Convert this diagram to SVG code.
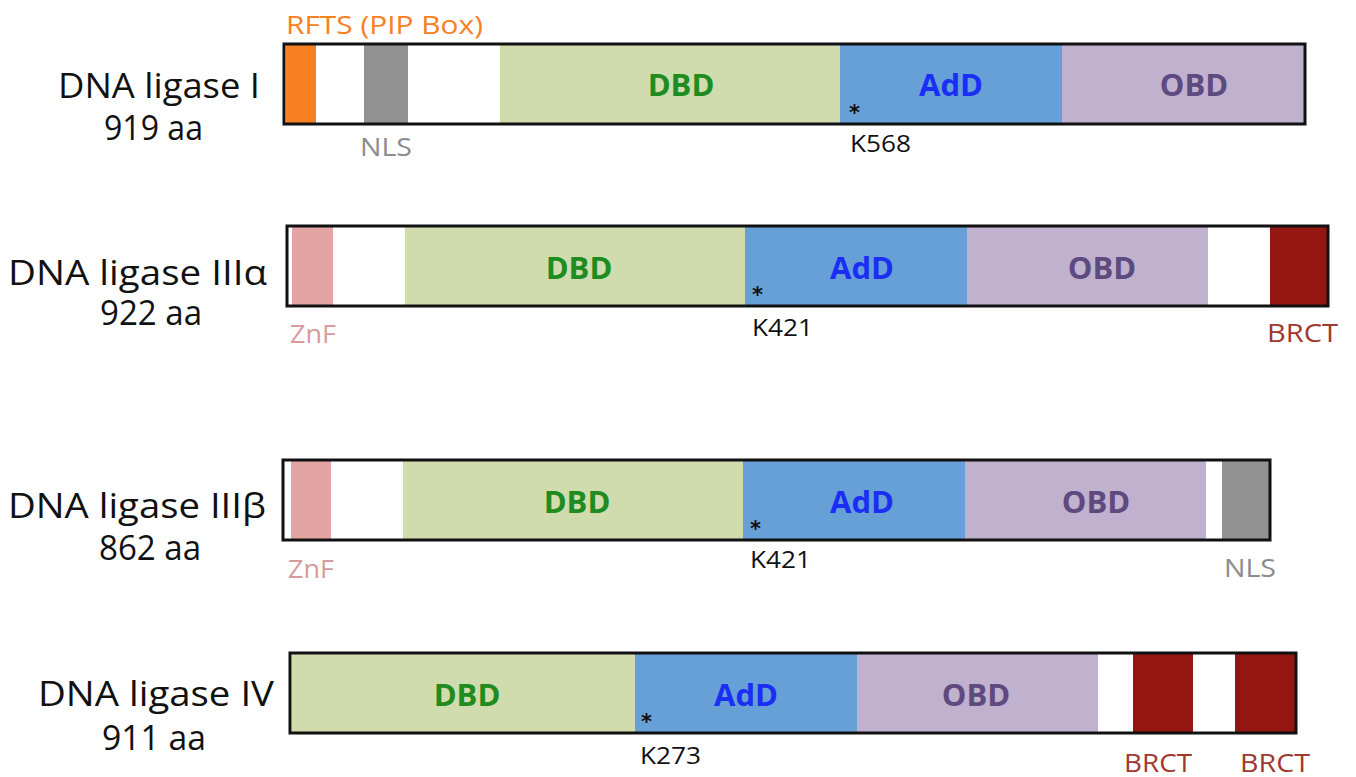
<svg xmlns="http://www.w3.org/2000/svg" width="1356" height="777" viewBox="0 0 1356 777">
<style>
.name{font-family:"Open Sans","Liberation Sans",sans-serif;font-size:35px;fill:#111}
.dom{font-family:"Open Sans","Liberation Sans",sans-serif;font-size:31px;font-weight:bold;text-anchor:middle}
.lab{font-family:"Open Sans","Liberation Sans",sans-serif;font-size:25px}
.k{font-family:"Open Sans","Liberation Sans",sans-serif;font-size:24px;fill:#111}
.ast{font-family:"DejaVu Sans",sans-serif;font-size:21px;font-weight:bold;fill:#111}
.frame{fill:none;stroke:#111;stroke-width:3}
.dbd{fill:#D0DCAE}.add{fill:#679FD7}.obd{fill:#C0B1CF}.brct{fill:#931610}.nls{fill:#929292}.znf{fill:#E3A5A4}.rfts{fill:#F97F23}
</style>
<rect width="1356" height="777" fill="#fff"/>

<g id="lig1">
<text class="name" x="58" y="98" textLength="202" lengthAdjust="spacingAndGlyphs">DNA ligase I</text>
<text class="name" x="104" y="140" textLength="99" lengthAdjust="spacingAndGlyphs">919 aa</text>
<rect x="284" y="44" width="1021" height="80" fill="#fff"/>
<rect class="rfts" x="286" y="45" width="30" height="78"/>
<rect class="nls" x="364" y="45" width="44" height="78"/>
<rect class="dbd" x="500" y="45" width="340" height="78"/>
<rect class="add" x="840" y="45" width="222" height="78"/>
<rect class="obd" x="1062" y="45" width="242" height="78"/>
<rect class="frame" x="284" y="44" width="1021" height="80"/>
<text class="dom" x="681" y="96" fill="#1E8C1E">DBD</text>
<text class="dom" x="951" y="96" fill="#1A2EF5">AdD</text>
<text class="dom" x="1194" y="96" fill="#5F4A80">OBD</text>
<text class="ast" x="849" y="120">*</text>
<text class="k" x="850" y="152" textLength="61" lengthAdjust="spacingAndGlyphs">K568</text>
<text class="lab" x="286" y="34" fill="#F97F23" textLength="197" lengthAdjust="spacingAndGlyphs">RFTS (PIP Box)</text>
<text class="lab" x="360" y="156" fill="#8C8C8C" textLength="52" lengthAdjust="spacingAndGlyphs">NLS</text>
</g>

<g id="lig3a">
<text class="name" x="8" y="285" textLength="259" lengthAdjust="spacingAndGlyphs">DNA ligase IIIα</text>
<text class="name" x="100" y="325" textLength="102" lengthAdjust="spacingAndGlyphs">922 aa</text>
<rect x="287" y="226" width="1041" height="80" fill="#fff"/>
<rect class="znf" x="292" y="227" width="41" height="78"/>
<rect class="dbd" x="405" y="227" width="340" height="78"/>
<rect class="add" x="745" y="227" width="222" height="78"/>
<rect class="obd" x="967" y="227" width="241" height="78"/>
<rect class="brct" x="1270" y="227" width="57" height="78"/>
<rect class="frame" x="287" y="226" width="1041" height="80"/>
<text class="dom" x="579" y="279" fill="#1E8C1E">DBD</text>
<text class="dom" x="862" y="279" fill="#1A2EF5">AdD</text>
<text class="dom" x="1102" y="279" fill="#5F4A80">OBD</text>
<text class="ast" x="752" y="302">*</text>
<text class="k" x="752" y="336" textLength="61" lengthAdjust="spacingAndGlyphs">K421</text>
<text class="lab" x="290" y="343" fill="#D89A9A" textLength="46" lengthAdjust="spacingAndGlyphs">ZnF</text>
<text class="lab" x="1267" y="342" fill="#A03830" textLength="71" lengthAdjust="spacingAndGlyphs">BRCT</text>
</g>

<g id="lig3b">
<text class="name" x="8" y="518" textLength="258" lengthAdjust="spacingAndGlyphs">DNA ligase IIIβ</text>
<text class="name" x="99" y="560" textLength="102" lengthAdjust="spacingAndGlyphs">862 aa</text>
<rect x="283" y="460" width="987" height="80" fill="#fff"/>
<rect class="znf" x="291" y="461" width="40" height="78"/>
<rect class="dbd" x="403" y="461" width="340" height="78"/>
<rect class="add" x="743" y="461" width="222" height="78"/>
<rect class="obd" x="965" y="461" width="241" height="78"/>
<rect class="nls" x="1222" y="461" width="47" height="78"/>
<rect class="frame" x="283" y="460" width="987" height="80"/>
<text class="dom" x="577" y="513" fill="#1E8C1E">DBD</text>
<text class="dom" x="862" y="513" fill="#1A2EF5">AdD</text>
<text class="dom" x="1096" y="513" fill="#5F4A80">OBD</text>
<text class="ast" x="750" y="536">*</text>
<text class="k" x="750" y="568" textLength="61" lengthAdjust="spacingAndGlyphs">K421</text>
<text class="lab" x="288" y="578" fill="#D89A9A" textLength="46" lengthAdjust="spacingAndGlyphs">ZnF</text>
<text class="lab" x="1224" y="577" fill="#8C8C8C" textLength="52" lengthAdjust="spacingAndGlyphs">NLS</text>
</g>

<g id="lig4">
<text class="name" x="38" y="706" textLength="236" lengthAdjust="spacingAndGlyphs">DNA ligase IV</text>
<text class="name" x="102" y="750" textLength="104" lengthAdjust="spacingAndGlyphs">911 aa</text>
<rect x="290" y="653" width="1006" height="80" fill="#fff"/>
<rect class="dbd" x="292" y="654" width="343" height="78"/>
<rect class="add" x="635" y="654" width="222" height="78"/>
<rect class="obd" x="857" y="654" width="241" height="78"/>
<rect class="brct" x="1133" y="654" width="60" height="78"/>
<rect class="brct" x="1235" y="654" width="60" height="78"/>
<rect class="frame" x="290" y="653" width="1006" height="80"/>
<text class="dom" x="467" y="706" fill="#1E8C1E">DBD</text>
<text class="dom" x="746" y="706" fill="#1A2EF5">AdD</text>
<text class="dom" x="976" y="706" fill="#5F4A80">OBD</text>
<text class="ast" x="641" y="729">*</text>
<text class="k" x="640" y="764" textLength="61" lengthAdjust="spacingAndGlyphs">K273</text>
<text class="lab" x="1124" y="772" fill="#A03830" textLength="68" lengthAdjust="spacingAndGlyphs">BRCT</text>
<text class="lab" x="1240" y="772" fill="#A03830" textLength="70" lengthAdjust="spacingAndGlyphs">BRCT</text>
</g>
</svg>
